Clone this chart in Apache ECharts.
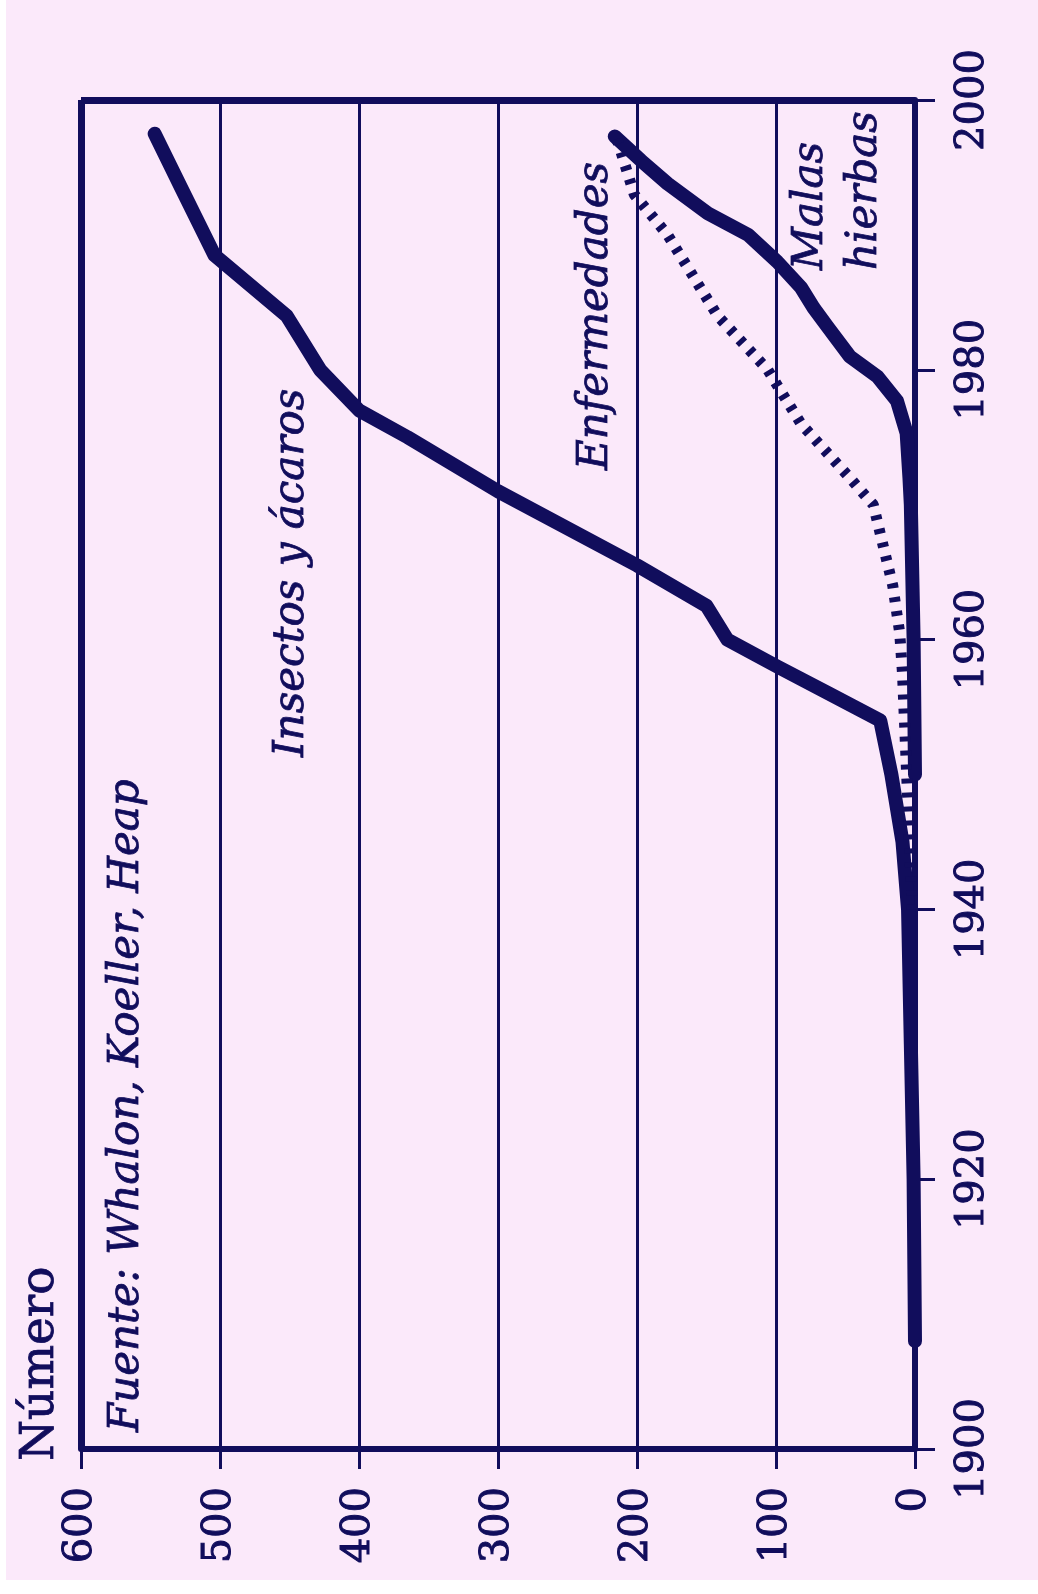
<!DOCTYPE html>
<html>
<head>
<meta charset="utf-8">
<script src="https://cdn.jsdelivr.net/npm/echarts@6/dist/echarts.min.js"></script>
<style>
  html, body { margin: 0; padding: 0; background: #ffffff; }
  #paper { position: absolute; left: 6px; top: 0; width: 1032px; height: 1580px; background: #fbe9fa; }
  #chart { position: absolute; left: 0; top: 0; width: 1038px; height: 1594px; }
</style>
</head>
<body>
<div id="paper"></div>
<div id="chart"></div>
<script>
// datos (año, número)
const yearTicks = [1900, 1920, 1940, 1960, 1980, 2000]
const countTicks = [0, 100, 200, 300, 400, 500, 600]

const insectYears = [1908, 1920, 1930, 1940, 1945, 1950, 1954, 1956, 1958, 1960, 1962.5, 1965.5, 1971, 1975, 1977, 1980, 1984, 1988.5, 1993.5, 1997.5]
const insectCounts = [0, 1, 3, 5, 9, 17, 25, 62, 99, 135, 150, 200, 300, 365, 400, 428, 452, 504, 528, 547]

const diseaseYears = [1940, 1950, 1957.5, 1960.5, 1964, 1967, 1970, 1972, 1976, 1980, 1984, 1990, 1993, 1997.3]
const diseaseCounts = [2, 6, 9, 11, 16, 23, 30, 47, 82, 106, 142, 178, 202, 215]

const weedYears = [1950, 1960, 1970, 1972, 1975.3, 1977.7, 1979.5, 1981, 1983.2, 1984.6, 1986.1, 1988, 1990, 1991.6, 1993.8, 1995.5, 1997.3]
const weedCounts = [0, 1, 3, 4, 6, 13, 27, 47, 63, 73, 82, 99, 120, 149, 178, 197, 216]

const navy = '#110d5c'
const serif = '"DejaVu Serif", "Liberation Serif", serif'

const pairs = (counts, years) => counts.map((c, i) => [c, years[i]])

const myChart = echarts.init(document.getElementById('chart'))

// texto girado 90 grados, se lee de abajo hacia arriba
function vtext(text, x, y, italic, size) {
  return {
    type: 'text',
    x: x,
    y: y,
    rotation: Math.PI / 2,
    style: {
      text: text,
      fill: navy,
      fontFamily: serif,
      fontStyle: italic ? 'italic' : 'normal',
      fontSize: size,
      lineHeight: 54,
      align: 'left',
      verticalAlign: 'middle',
      stroke: navy,
      lineWidth: 0.8
    }
  }
}

const labelStyle = {
  rotate: 90,
  margin: 38,
  color: navy,
  fontFamily: serif,
  fontSize: 40,
  textBorderColor: navy,
  textBorderWidth: 1,
  formatter: v => String(v)
}

const option = {
  animation: false,
  grid: { left: 81, right: 123, top: 100, bottom: 145 },
  xAxis: {
    type: 'value',
    inverse: true,
    position: 'bottom',
    min: countTicks[0],
    max: countTicks[countTicks.length - 1],
    interval: 100,
    axisLine: { show: true, lineStyle: { color: navy, width: 6 } },
    axisTick: { show: true, length: 20, lineStyle: { color: navy, width: 3 } },
    axisLabel: labelStyle,
    splitLine: { show: true, lineStyle: { color: navy, width: 3 } }
  },
  yAxis: {
    type: 'value',
    position: 'right',
    min: yearTicks[0],
    max: yearTicks[yearTicks.length - 1],
    interval: 20,
    axisLine: { show: true, lineStyle: { color: navy, width: 6 } },
    axisTick: { show: true, length: 20, lineStyle: { color: navy, width: 3 } },
    axisLabel: labelStyle,
    splitLine: { show: false }
  },
  series: [
    {
      name: 'Insectos y ácaros',
      type: 'line',
      symbol: 'none',
      data: pairs(insectCounts, insectYears),
      lineStyle: { color: navy, width: 14, cap: 'round', join: 'round' },
      markLine: {
        silent: true,
        symbol: 'none',
        label: { show: false },
        lineStyle: { color: navy, width: 7, type: 'solid' },
        data: [{ yAxis: 2000 }, { xAxis: 600 }]
      }
    },
    {
      name: 'Malas hierbas',
      type: 'line',
      symbol: 'none',
      data: pairs(weedCounts, weedYears),
      lineStyle: { color: navy, width: 14, cap: 'round', join: 'round' }
    },
    {
      name: 'Enfermedades',
      type: 'line',
      symbol: 'none',
      data: pairs(diseaseCounts, diseaseYears),
      lineStyle: { color: navy, width: 11, type: [5, 9], cap: 'butt' }
    }
  ],
  graphic: [
    vtext('Número', 41, 1461, false, 47),
    vtext('Fuente: Whalon, Koeller, Heap', 127, 1432, true, 42),
    vtext('Insectos y ácaros', 292, 757, true, 42),
    vtext('Enfermedades', 596, 470, true, 42),
    vtext('Malas\nhierbas', 838, 270, true, 42)
  ]
}

myChart.setOption(option)
</script>
</body>
</html>
